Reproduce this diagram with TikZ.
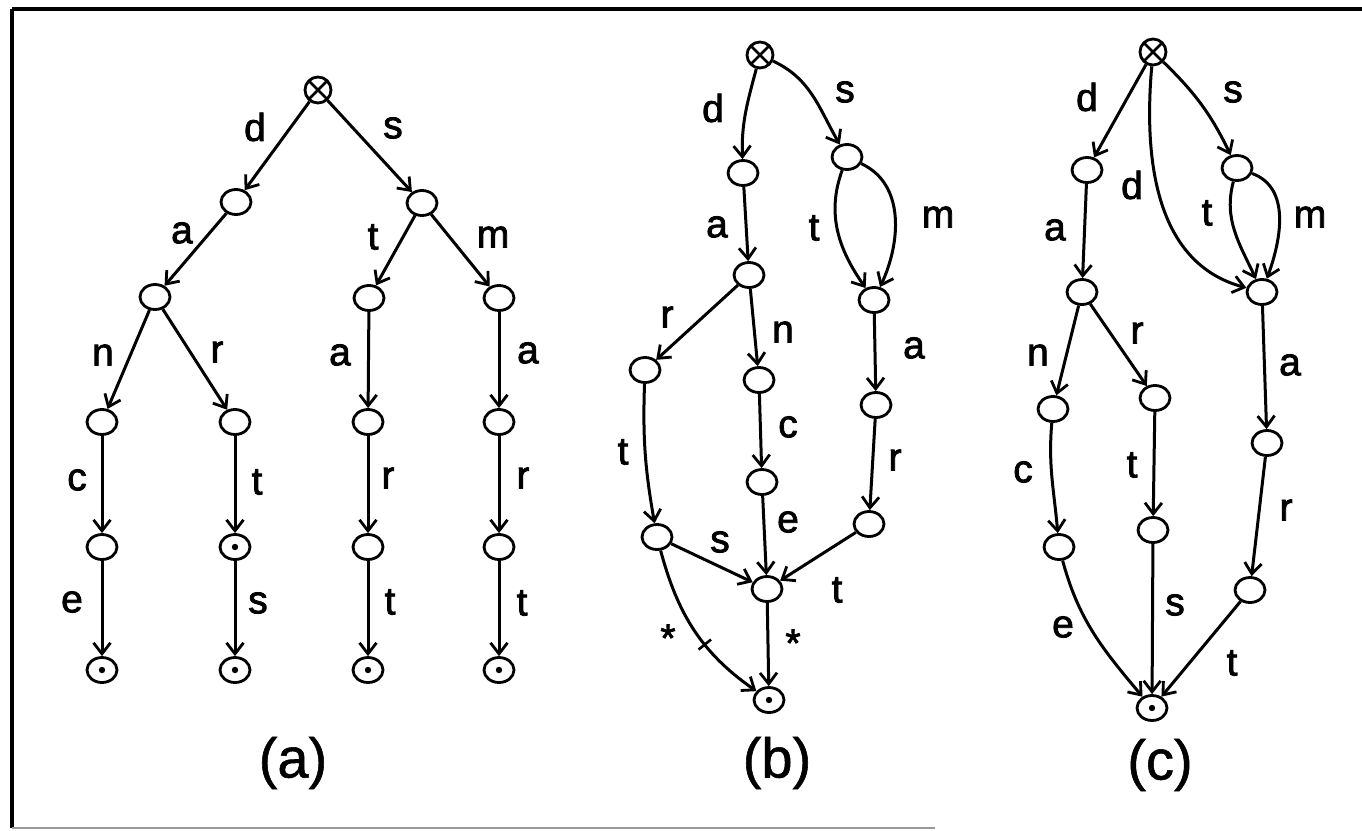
\documentclass[tikz,border=0pt]{standalone}
\usepackage{fontspec}
\setmainfont{Liberation Sans}
\newfontfamily\labfont{Liberation Sans}[FakeBold=2]
\newfontfamily\capfont{Liberation Sans}[FakeBold=1]
\usetikzlibrary{arrows.meta,shapes.geometric,decorations.markings}
\begin{document}
\begin{tikzpicture}[x=1pt,y=1pt,
  st/.style={ellipse,draw,line width=2.8pt,minimum width=30pt,minimum height=25pt,inner sep=0pt},
  fin/.style={st,path picture={\fill (path picture bounding box.center) circle (3.2pt);}},
  rootnode/.style={circle,draw,line width=2.8pt,minimum size=26pt,inner sep=0pt,
    path picture={\draw[line width=2.6pt] (path picture bounding box.north west)--(path picture bounding box.south east)
      (path picture bounding box.north east)--(path picture bounding box.south west);}},
  lab/.style={font=\labfont\fontsize{39}{40}\selectfont,inner sep=0pt},
  captxt/.style={font=\capfont\fontsize{56}{60}\selectfont,inner sep=0pt},
  ed/.style={line width=3pt,-{Straight Barb[length=11pt,width=17pt,line width=2.8pt]}},
  tickmark/.style={postaction={decorate},decoration={markings,mark=at position 0.6 with {\draw[-,line width=2.6pt] (0,-8pt)--(0,8pt);}}},
]
\useasboundingbox (0,0) rectangle (1362,-830);
% frame
\draw[line width=3.6pt] (12,-9) -- (1362,-9);
\draw[line width=3.6pt] (12,-9) -- (12,-828);
\draw[line width=2.4pt,black!40] (12,-828) -- (935,-828);

% ---------------- (a) ----------------
\node[rootnode] (ra) at (318,-90) {};
\node[st] (a1) at (236,-202) {};
\node[st] (a2) at (422,-203) {};
\node[st] (a3) at (155,-297) {};
\node[st] (a4) at (369,-298) {};
\node[st] (a5) at (499,-298) {};
\node[st] (a6) at (102,-422) {};
\node[st] (a7) at (235,-422) {};
\node[st] (a8) at (368,-422) {};
\node[st] (a9) at (499,-422) {};
\node[st] (a10) at (102,-547) {};
\node[fin] (a11) at (235,-547) {};
\node[st] (a12) at (368,-547) {};
\node[st] (a13) at (499,-547) {};
\node[fin] (a14) at (102,-670) {};
\node[fin] (a15) at (235,-670) {};
\node[fin] (a16) at (368,-670) {};
\node[fin] (a17) at (499,-670) {};

\draw[ed] (ra) -- (a1);
\draw[ed] (ra) -- (a2);
\draw[ed] (a1) -- (a3);
\draw[ed] (a2) -- (a4);
\draw[ed] (a2) -- (a5);
\draw[ed] (a3) -- (a6);
\draw[ed] (a3) -- (a7);
\draw[ed] (a4) -- (a8);
\draw[ed] (a5) -- (a9);
\draw[ed] (a6) -- (a10);
\draw[ed] (a7) -- (a11);
\draw[ed] (a8) -- (a12);
\draw[ed] (a9) -- (a13);
\draw[ed] (a10) -- (a14);
\draw[ed] (a11) -- (a15);
\draw[ed] (a12) -- (a16);
\draw[ed] (a13) -- (a17);

\node[lab] (la1) at (255,-127) {d};
\node[lab] (la2) at (393,-128) {s};
\node[lab] (la3) at (182,-233) {a};
\node[lab] (la4) at (373,-237) {t};
\node[lab] (la5) at (493,-237) {m};
\node[lab] (la6) at (103,-355) {n};
\node[lab] (la7) at (217,-352) {r};
\node[lab] (la8) at (340,-355) {a};
\node[lab] (la9) at (528,-353) {a};
\node[lab] (la10) at (77,-480) {c};
\node[lab] (la11) at (257,-482) {t};
\node[lab] (la12) at (388,-478) {r};
\node[lab] (la13) at (523,-478) {r};
\node[lab] (la14) at (72,-602) {e};
\node[lab] (la15) at (258,-603) {s};
\node[lab] (la16) at (390,-602) {t};
\node[lab] (la17) at (522,-603) {t};
\node[captxt] (capa) at (293,-763) {(a)};

% ---------------- (b) ----------------
\node[rootnode] (rb) at (760,-55) {};
\node[st] (b1) at (743,-173) {};
\node[st] (b2) at (847,-157) {};
\node[st] (b3) at (749,-275) {};
\node[st] (b4) at (874,-300) {};
\node[st] (b5) at (645,-370) {};
\node[st] (b6) at (759,-380) {};
\node[st] (b7) at (876,-405) {};
\node[st] (b8) at (762,-482) {};
\node[st] (b9) at (869,-524) {};
\node[st] (b10) at (657,-537) {};
\node[st] (b11) at (767,-589) {};
\node[fin] (b12) at (769,-700) {};

\draw[ed] (rb) to[out=255,in=92] (b1);
\draw[ed] (rb) to[out=-25,in=120] (b2);
\draw[ed] (b1) -- (b3);
\draw[ed] (b2) to[out=-110,in=125] (b4);
\draw[ed] (b2) to[out=-25,in=65] (b4);
\draw[ed] (b3) -- (b5);
\draw[ed] (b3) -- (b6);
\draw[ed] (b4) -- (b7);
\draw[ed] (b6) -- (b8);
\draw[ed] (b7) -- (b9);
\draw[ed] (b5) to[out=-92,in=100] (b10);
\draw[ed] (b10) -- (b11);
\draw[ed] (b8) -- (b11);
\draw[ed] (b9) -- (b11);
\draw[ed] (b11) -- (b12);
\draw[ed,tickmark] (b10) to[out=-75,in=145] (b12);

\node[lab] (lb1) at (713,-108) {d};
\node[lab] (lb2) at (845,-92) {s};
\node[lab] (lb3) at (717,-227) {a};
\node[lab] (lb4) at (814,-228) {t};
\node[lab] (lb5) at (938,-217) {m};
\node[lab] (lb6) at (667,-317) {r};
\node[lab] (lb7) at (783,-332) {n};
\node[lab] (lb8) at (914,-348) {a};
\node[lab] (lb9) at (788,-427) {c};
\node[lab] (lb10) at (623,-452) {t};
\node[lab] (lb11) at (895,-460) {r};
\node[lab] (lb12) at (720,-542) {s};
\node[lab] (lb13) at (788,-522) {e};
\node[lab] (lb14) at (837,-590) {t};
\node[lab] (lb15) at (668,-638) {*};
\node[lab] (lb16) at (793,-643) {*};
\node[captxt] (capb) at (777,-763) {(b)};

% ---------------- (c) ----------------
\node[rootnode] (rc) at (1153,-52) {};
\node[st] (c1) at (1087,-170) {};
\node[st] (c2) at (1237,-168) {};
\node[st] (c3) at (1082,-292) {};
\node[st] (c4) at (1262,-292) {};
\node[st] (c5) at (1053,-409) {};
\node[st] (c6) at (1155,-398) {};
\node[st] (c7) at (1267,-443) {};
\node[st] (c8) at (1059,-547) {};
\node[st] (c9) at (1153,-530) {};
\node[st] (c10) at (1250,-590) {};
\node[fin] (c11) at (1152,-708) {};

\draw[ed] (rc) -- (c1);
\draw[ed] (rc) to[bend left=10] (c2);
\draw[ed] (rc) to[out=-95,in=165] (c4);
\draw[ed] (c2) to[out=-105,in=115] (c4);
\draw[ed] (c2) to[out=-20,in=70] (c4);
\draw[ed] (c1) -- (c3);
\draw[ed] (c3) -- (c5);
\draw[ed] (c3) -- (c6);
\draw[ed] (c4) -- (c7);
\draw[ed] (c5) to[out=-95,in=95] (c8);
\draw[ed] (c6) -- (c9);
\draw[ed] (c7) -- (c10);
\draw[ed] (c8) to[out=-75,in=130] (c11);
\draw[ed] (c9) -- (c11);
\draw[ed] (c10) -- (c11);

\node[lab] (lc1) at (1087,-97) {d};
\node[lab] (lc2) at (1233,-92) {s};
\node[lab] (lc3) at (1132,-185) {d};
\node[lab] (lc4) at (1207,-213) {t};
\node[lab] (lc5) at (1310,-217) {m};
\node[lab] (lc6) at (1055,-230) {a};
\node[lab] (lc7) at (1038,-355) {n};
\node[lab] (lc8) at (1137,-333) {r};
\node[lab] (lc9) at (1290,-365) {a};
\node[lab] (lc10) at (1023,-472) {c};
\node[lab] (lc11) at (1132,-465) {t};
\node[lab] (lc12) at (1286,-510) {r};
\node[lab] (lc13) at (1063,-627) {e};
\node[lab] (lc14) at (1175,-605) {s};
\node[lab] (lc15) at (1232,-663) {t};
\node[captxt] (capc) at (1160,-765) {(c)};
\end{tikzpicture}
\end{document}
